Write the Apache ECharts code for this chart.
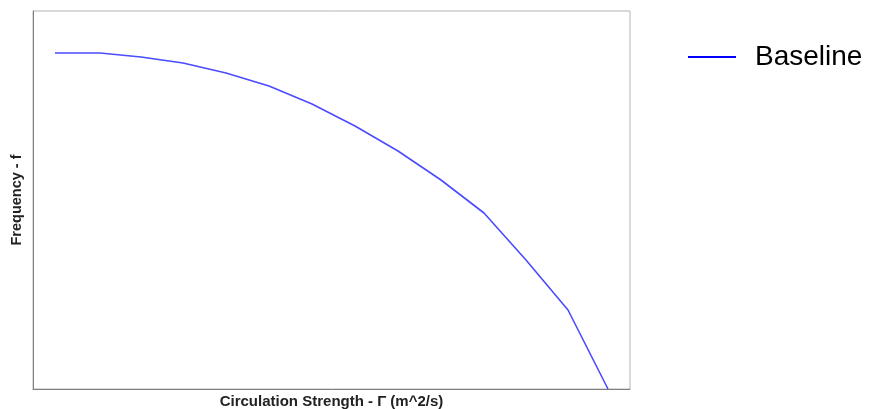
<!DOCTYPE html>
<html><head><meta charset="utf-8">
<script src="https://cdn.jsdelivr.net/npm/echarts@6/dist/echarts.min.js"></script>
<style>html,body{margin:0;padding:0;background:#fff}#c{width:874px;height:409px}</style>
</head><body><div id="c"></div>
<script>
// Circulation strength (arbitrary units, no ticks shown in the reference)
const circulation = [22, 67, 108, 150, 193, 236, 279, 322, 365, 408, 451, 493, 535, 575];
// Frequency (arbitrary units)
const frequency   = [336, 336, 332, 326, 316, 303, 285, 263, 238, 209, 176, 129, 79, 0];
const seriesName = 'Baseline';
const xTitle = 'Circulation Strength - Γ (m^2/s)';
const yTitle = 'Frequency - f';

const chart = echarts.init(document.getElementById('c'));
chart.setOption({
  animation: false,
  backgroundColor: '#fff',
  grid: { left: 33, top: 11, width: 597, height: 378, show: true, borderColor: '#b4b4b4', borderWidth: 1, backgroundColor: '#fff', containLabel: false, outerBoundsMode: 'none' },
  legend: {
    left: 683, top: 38, itemWidth: 48, itemHeight: 14, icon: 'path://M0,6L48,6L48,8L0,8Z',
    itemStyle: { color: '#0000ff' },
    textStyle: { fontFamily: 'Liberation Sans, Arial', fontSize: 28, color: '#000', padding: [0, 0, 0, 14] },
    data: [seriesName]
  },
  xAxis: {
    type: 'value', min: 0, max: 597,
    name: xTitle, nameLocation: 'middle', nameGap: 5,
    nameTextStyle: { fontFamily: 'Liberation Sans, Arial', fontWeight: 'bold', fontSize: 15, color: '#222' },
    axisLine: { show: true, lineStyle: { color: '#808080', width: 1 } },
    axisTick: { show: false }, axisLabel: { show: false }, splitLine: { show: false }
  },
  yAxis: {
    type: 'value', min: 0, max: 378,
    name: yTitle, nameLocation: 'middle', nameGap: 9, nameRotate: 90,
    nameTextStyle: { fontFamily: 'Liberation Sans, Arial', fontWeight: 'bold', fontSize: 14.5, color: '#222' },
    axisLine: { show: true, lineStyle: { color: '#808080', width: 1 } },
    axisTick: { show: false }, axisLabel: { show: false }, splitLine: { show: false }
  },
  series: [{
    name: seriesName, type: 'line', symbol: 'none', smooth: false,
    lineStyle: { color: '#4b4bff', width: 1.6 }, itemStyle: { color: '#4b4bff' },
    data: circulation.map((x, i) => [x, frequency[i]])
  }]
});
</script></body></html>
